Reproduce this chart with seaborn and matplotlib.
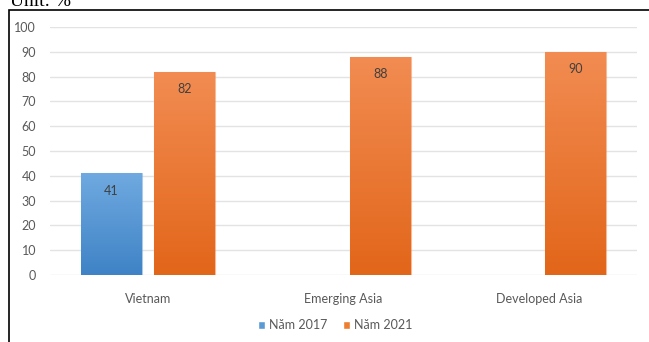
import numpy as np
import pandas as pd
import matplotlib.pyplot as plt
import matplotlib.colors as mcolors
from matplotlib.patches import Rectangle, Patch
import seaborn as sns

# data
regions = ["Vietnam", "Emerging Asia", "Developed Asia"]
years = ["Năm 2017", "Năm 2021"]
val_2017 = [41, np.nan, np.nan]
val_2021 = [82, 88, 90]

df = pd.DataFrame({
    "region": regions * 2,
    "year": [years[0]] * 3 + [years[1]] * 3,
    "value": val_2017 + val_2021,
})

sns.set_theme(style="white")
plt.rcParams["font.family"] = ["Lato", "DejaVu Sans"]

fig = plt.figure(figsize=(6.49, 3.42), dpi=100)
ax = fig.add_axes([50 / 649, 1 - 275 / 342, 587 / 649, 248 / 342])

pal = {years[0]: "#5b9bd5", years[1]: "#ed7d31"}
sns.barplot(data=df, x="region", y="value", hue="year", hue_order=years,
            palette=pal, saturation=1, width=0.75, gap=0.17, ax=ax,
            legend=False, errorbar=None)

ax.set_yticks(range(0, 101, 10))
ax.yaxis.grid(True, color="#e3e3e3", linewidth=1)
ax.set_axisbelow(True)
for s in ax.spines.values():
    s.set_visible(False)
ax.set_xlabel("")
ax.set_ylabel("")
ax.tick_params(axis="y", length=0, pad=10, labelsize=9, labelcolor="#595959")
ax.tick_params(axis="x", length=0, pad=13, labelsize=9, labelcolor="#595959")

# gradient fill like the Excel original (top colour, bottom colour)
grads = [("#6fa9e0", "#3f83c6"), ("#f28c52", "#e2661a")]
for cont, (top_c, bot_c) in zip(ax.containers, grads):
    cmap = mcolors.LinearSegmentedColormap.from_list("g", [bot_c, top_c])
    for p in cont:
        h = p.get_height()
        if not np.isfinite(h) or h <= 0:
            continue
        x0, w = p.get_x(), p.get_width()
        im = ax.imshow(np.linspace(0, 1, 100).reshape(-1, 1), cmap=cmap,
                       extent=[x0, x0 + w, 0, h], origin="lower",
                       aspect="auto", zorder=2)
        im.set_clip_path(p)
        p.set_facecolor("none")
        p.set_edgecolor(mcolors.to_rgba(top_c, 0.6))
        p.set_linewidth(0.8)
        ax.text(x0 + w / 2, h - 7, f"{h:.0f}", ha="center", va="center",
                fontsize=9, color="#404040", zorder=3)
ax.set_xlim(-0.5, 2.5)
ax.set_ylim(0, 100)

handles = [Patch(facecolor="#5b9bd5"), Patch(facecolor="#ed7d31")]
fig.legend(handles, years, loc="center", bbox_to_anchor=(335 / 649, 1 - 325 / 342),
           ncol=2, frameon=False, fontsize=9, handlelength=0.6, handleheight=0.6,
           handletextpad=0.3, columnspacing=1.2, labelcolor="#595959")

# outer frame (left and top edges visible in the crop)
fig.patches.append(Rectangle((9 / 649, -0.1), 1.2, 1 - 10 / 342 + 0.1,
                             transform=fig.transFigure, fill=False,
                             edgecolor="black", linewidth=1.2))
fig.text(10 / 649, 1 - 6 / 342, "Unit: %", fontsize=14, va="baseline",
         family=["Liberation Serif", "DejaVu Serif"], color="black")

fig.savefig("out.png", dpi=100)
